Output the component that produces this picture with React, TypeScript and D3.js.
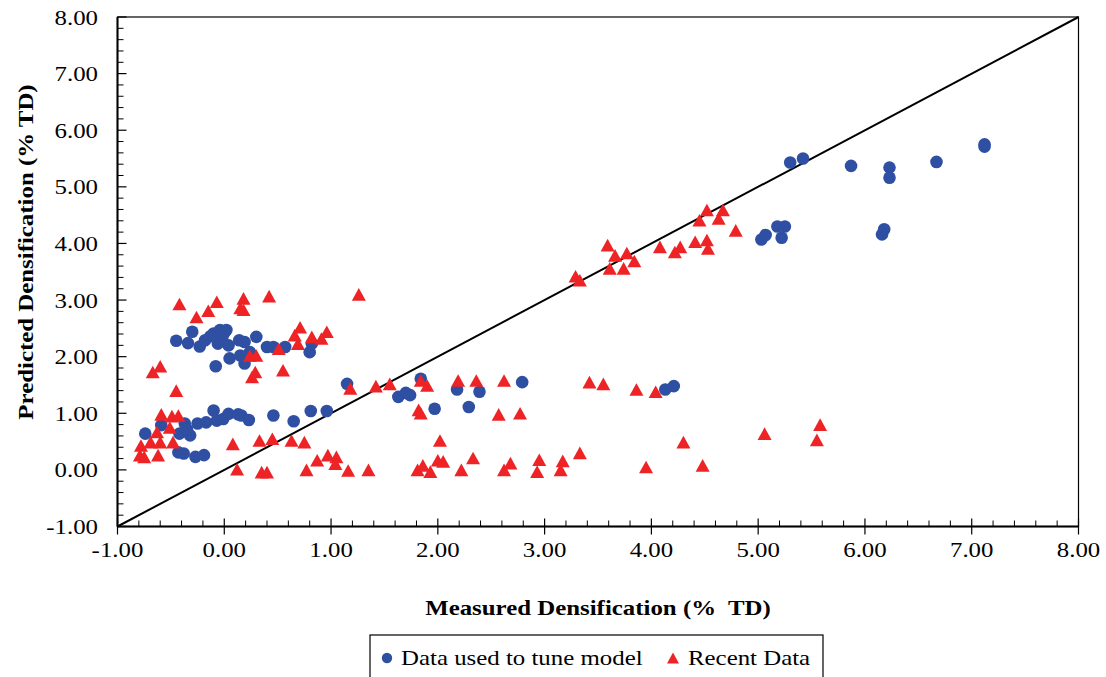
import * as d3 from "d3";

// Data used to tune model (measured, predicted) in % TD
const tunedX = [
  -0.45, -0.34, -0.3, -0.23, -0.18, -0.1, -0.04, 0.02, -0.06, 0.04, 0.05, -0.08, 0.14, 0.19, 0.3, 0.24, 0.15,
  0.19, 0.4, 0.46, 0.57, 0.8, 0.82, -0.02, 0.0, -0.13,
  -0.74, -0.59, -0.42, -0.37, -0.32, -0.43, -0.38, -0.27, -0.19, -0.25, -0.17, -0.1, -0.07, -0.01, 0.04, 0.13,
  0.16, 0.23, 0.46, 0.65, 0.81, 0.96, -0.35,
  1.15, 1.63, 1.7, 1.74, 1.84, 1.97, 2.18, 2.29, 2.39, 2.79, 4.13, 4.21,
  5.03, 5.07, 5.18, 5.25, 5.22, 5.3, 5.42, 5.87, 6.23, 6.23, 6.67, 7.12, 7.12, 6.18, 6.16,
];
const tunedY = [
  2.28, 2.24, 2.44, 2.18, 2.29, 2.41, 2.47, 2.47, 2.23, 2.2, 1.97, 1.83, 2.29, 2.26, 2.35, 2.08, 2.02,
  1.88, 2.17, 2.17, 2.17, 2.08, 2.23, 2.33, 2.42, 2.36,
  0.64, 0.79, 0.64, 0.82, 0.61, 0.31, 0.29, 0.23, 0.26, 0.82, 0.84, 1.05, 0.87, 0.9, 0.99, 0.98,
  0.96, 0.88, 0.96, 0.86, 1.04, 1.04, 0.72,
  1.52, 1.29, 1.36, 1.32, 1.61, 1.08, 1.42, 1.11, 1.38, 1.55, 1.42, 1.48,
  4.07, 4.15, 4.3, 4.3, 4.1, 5.43, 5.5, 5.37, 5.34, 5.16, 5.44, 5.75, 5.71, 4.25, 4.16,
];

// Recent data
const recentX = [
  -0.42, -0.07, 0.15, 0.18, 0.18, -0.26, -0.15, -0.67, -0.6, -0.45,
  0.42, 1.26, 0.71, 0.66, 0.69, 0.82, 0.96, 0.91, 0.51, 0.24, 0.3, 0.29, 0.26, 0.55, 1.18,
  -0.59, -0.49, -0.43, -0.63, -0.51, -0.78, -0.69, -0.6, -0.48, -0.79, -0.75, -0.62,
  0.08, 0.12, 0.33, 0.45, 0.63, 0.75, 0.35, 0.4, 0.77, 0.87, 0.97, 1.05, 1.04, 1.16,
  1.42, 1.55, 1.84, 1.9, 2.19, 2.36, 2.62, 1.82, 1.84, 2.57, 2.77, 2.02,
  1.35, 1.81, 1.86, 1.93, 2.0, 2.05, 2.22, 2.33, 2.62, 2.68, 2.95, 2.93, 3.17, 3.15, 3.33,
  4.52, 4.67, 4.45, 4.63, 4.79, 4.41, 4.52, 4.53, 4.08, 4.22, 4.27, 3.59, 3.66, 3.77, 3.84, 3.61, 3.74, 3.29, 3.33,
  3.42, 3.55, 3.86, 4.04, 5.06, 5.58, 5.55, 4.3, 4.48, 3.95,
];
const recentY = [
  2.93, 2.97, 2.86, 2.83, 3.03, 2.7, 2.81, 1.73, 1.83, 1.4,
  3.07, 3.1, 2.52, 2.38, 2.23, 2.35, 2.44, 2.32, 2.14, 2.02, 2.02, 1.73, 1.64, 1.76, 1.44,
  0.98, 0.95, 0.96, 0.67, 0.75, 0.43, 0.49, 0.49, 0.49, 0.26, 0.23, 0.26,
  0.46, 0.01, 0.52, 0.55, 0.52, 0.49, -0.04, -0.04, 0.0, 0.17, 0.26, 0.23, 0.11, -0.01,
  1.48, 1.52, 1.58, 1.49, 1.58, 1.58, 1.58, 1.06, 1.0, 0.98, 1.0, 0.52,
  0.0, 0.0, 0.08, -0.03, 0.17, 0.15, 0.0, 0.21, 0.0, 0.12, 0.18, -0.03, 0.16, 0.0, 0.3,
  4.59, 4.59, 4.41, 4.44, 4.23, 4.03, 4.06, 3.91, 3.94, 3.85, 3.94, 3.97, 3.79, 3.83, 3.69, 3.56, 3.56, 3.42, 3.35,
  1.55, 1.52, 1.42, 1.38, 0.64, 0.8, 0.53, 0.49, 0.08, 0.05,
];

const majorTicks = [-1, 0, 1, 2, 3, 4, 5, 6, 7, 8];
const xTitle = "Measured Densification (%  TD)";
const yTitle = "Predicted Densification (% TD)";
const legendLabels = ["Data used to tune model", "Recent Data"];

const W = 1106;
const H = 677;
const left = 117.5;
const right = 1078.5;
const top = 17;
const bottom = 526.5;

const BLUE = "#2f4fa2";
const RED = "#ee2326";
const FONT = "'Liberation Serif', 'Times New Roman', serif";
const SX = 1.13; // the original text is a bit wider than Liberation Serif

function triangle(cx: number, cy: number, s: number) {
  const h = s * 0.9;
  return `M${cx},${cy - h / 2}L${cx + s / 2},${cy + h / 2}L${cx - s / 2},${cy + h / 2}Z`;
}

function Txt({
  x,
  y,
  rotate = 0,
  anchor = "start",
  size = 22,
  bold = false,
  children,
}: {
  x: number;
  y: number;
  rotate?: number;
  anchor?: string;
  size?: number;
  bold?: boolean;
  children: string;
}) {
  return (
    <text
      transform={`translate(${x},${y}) rotate(${rotate}) scale(${SX},1)`}
      textAnchor={anchor}
      fontSize={size}
      fontWeight={bold ? "bold" : "normal"}
      style={{ whiteSpace: "pre" }}
    >
      {children}
    </text>
  );
}

export default function App() {
  const x = d3.scaleLinear().domain([-1, 8]).range([left, right]);
  const y = d3.scaleLinear().domain([-1, 8]).range([bottom, top]);
  const minor = d3.range(-1, 8.001, 0.2).filter((v) => Math.abs(v - Math.round(v)) > 0.01);
  const fmt = (v: number) => v.toFixed(2);

  return (
    <svg
      width={W}
      height={H}
      style={{ position: "absolute", left: 0, top: 0, background: "#fff" }}
      fontFamily={FONT}
    >
      {/* frame */}
      <rect x={left} y={top} width={right - left} height={bottom - top} fill="none" stroke="#000" strokeWidth={1.2} />
      <line x1={left} x2={left} y1={top} y2={bottom} stroke="#000" strokeWidth={2} />
      <line x1={left} x2={right} y1={bottom} y2={bottom} stroke="#000" strokeWidth={2} />

      {/* y ticks */}
      {minor.map((v) => (
        <line key={"ym" + v} x1={left} x2={left + 6} y1={y(v)} y2={y(v)} stroke="#000" strokeWidth={1} />
      ))}
      {majorTicks.map((v) => (
        <g key={"yM" + v}>
          <line x1={left} x2={left + 9} y1={y(v)} y2={y(v)} stroke="#000" strokeWidth={1.2} />
          <Txt x={98} y={y(v) + 7.5} anchor="end">
            {fmt(v)}
          </Txt>
        </g>
      ))}

      {/* x ticks */}
      {minor.map((v) => (
        <line key={"xm" + v} x1={x(v)} x2={x(v)} y1={bottom} y2={bottom - 6} stroke="#000" strokeWidth={1} />
      ))}
      {majorTicks.map((v) => (
        <g key={"xM" + v}>
          <line x1={x(v)} x2={x(v)} y1={bottom - 8} y2={bottom + 8} stroke="#000" strokeWidth={1.2} />
          <Txt x={x(v)} y={557} anchor="middle">
            {fmt(v)}
          </Txt>
        </g>
      ))}

      {/* 1:1 line */}
      <line x1={x(-1)} y1={y(-1)} x2={x(8)} y2={y(8)} stroke="#000" strokeWidth={2} />

      {/* series */}
      {tunedX.map((v, i) => (
        <circle key={"b" + i} cx={x(v)} cy={y(tunedY[i])} r={6.3} fill={BLUE} />
      ))}
      {recentX.map((v, i) => (
        <path key={"r" + i} d={triangle(x(v), y(recentY[i]), 14)} fill={RED} />
      ))}

      {/* axis titles */}
      <Txt x={598} y={615} anchor="middle" bold>
        {xTitle}
      </Txt>
      <Txt x={33} y={252} rotate={-90} anchor="middle" bold>
        {yTitle}
      </Txt>

      {/* legend */}
      <rect x={370} y={635} width={453} height={60} fill="#fff" stroke="#000" strokeWidth={1.2} />
      <circle cx={387} cy={658} r={5.2} fill={BLUE} />
      <Txt x={401} y={665}>
        {legendLabels[0]}
      </Txt>
      <path d={triangle(673, 658, 12)} fill={RED} />
      <Txt x={688} y={665}>
        {legendLabels[1]}
      </Txt>
    </svg>
  );
}
